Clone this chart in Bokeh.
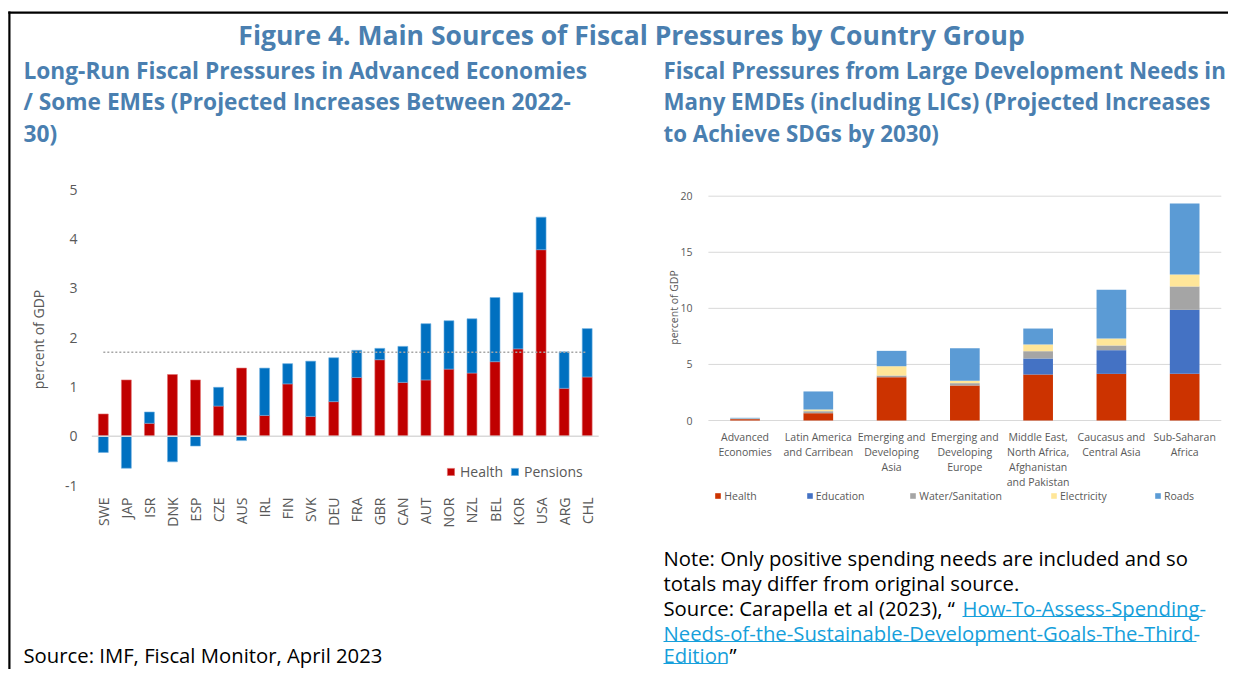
import math
from bokeh.plotting import figure
from bokeh.models import Range1d, Legend, LegendItem, ColumnDataSource, BoxAnnotation
from bokeh.core.properties import value
from bokeh.embed import file_html
from bokeh.resources import INLINE

# ---------------- data ----------------
main_title = "Figure 4. Main Sources of Fiscal Pressures by Country Group"
left_title_lines = ["Long-Run Fiscal Pressures in Advanced Economies",
                    "/ Some EMEs (Projected Increases Between 2022-",
                    "30)"]
right_title_lines = ["Fiscal Pressures from Large Development Needs in",
                     "Many EMDEs (including LICs) (Projected Increases",
                     "to Achieve SDGs by 2030)"]
left_source = "Source: IMF, Fiscal Monitor, April 2023"
axis_title = "percent of GDP"

countries = ["SWE", "JAP", "ISR", "DNK", "ESP", "CZE", "AUS", "IRL", "FIN", "SVK", "DEU",
             "FRA", "GBR", "CAN", "AUT", "NOR", "NZL", "BEL", "KOR", "USA", "ARG", "CHL"]
health = [0.45, 1.14, 0.26, 1.25, 1.14, 0.61, 1.38, 0.42, 1.06, 0.40, 0.70,
          1.19, 1.55, 1.09, 1.14, 1.36, 1.28, 1.51, 1.77, 3.78, 0.97, 1.20]
pensions = [-0.33, -0.65, 0.23, -0.52, -0.20, 0.38, -0.09, 0.96, 0.41, 1.12, 0.89,
            0.55, 0.23, 0.73, 1.14, 0.98, 1.10, 1.30, 1.14, 0.66, 0.74, 0.98]
average_total = 1.70
left_yticks = [-1, 0, 1, 2, 3, 4, 5]
left_series = ["Health", "Pensions"]

regions = ["Advanced\nEconomies", "Latin America\nand Carribean", "Emerging and\nDeveloping\nAsia",
           "Emerging and\nDeveloping\nEurope", "Middle East,\nNorth Africa,\nAfghanistan\nand Pakistan",
           "Caucasus and\nCentral Asia", "Sub-Saharan\nAfrica"]
sdg_health = [0.12, 0.65, 3.86, 3.12, 4.10, 4.16, 4.16]
sdg_education = [0.00, 0.00, 0.00, 0.00, 1.43, 2.11, 5.71]
sdg_water = [0.04, 0.18, 0.15, 0.21, 0.65, 0.42, 2.08]
sdg_electricity = [0.02, 0.15, 0.83, 0.21, 0.60, 0.62, 1.07]
sdg_roads = [0.06, 1.61, 1.37, 2.91, 1.42, 4.34, 6.33]
sdg_names = ["Health", "Education", "Water/Sanitation", "Electricity", "Roads"]
right_yticks = [0, 5, 10, 15, 20]

note_lines = ["Note: Only positive spending needs are included and so",
              "totals may differ from original source."]
source_prefix = "Source: Carapella et al (2023), \u201c "
link_lines = ["How-To-Assess-Spending-",
              "Needs-of-the-Sustainable-Development-Goals-The-Third-",
              "Edition"]
source_suffix = "\u201d"

# ---------------- layout / style constants ----------------
W, H = 1228, 669
FONT = value("Open Sans")
TITLE_C = "#4A7FB0"
AX_C = "#595959"
LINK_C = "#169FDB"
left_colors = ["#C00000", "#0070C0"]
left_edges = ["#E07070", "#6FB0E0"]
right_colors = ["#CC3300", "#4472C4", "#A5A5A5", "#FFE699", "#5B9BD5"]


def lin_range(v0, v1, p0, p1, total):
    s = (p1 - p0) / (v1 - v0)
    start = v0 - p0 / s
    return Range1d(start, start + total / s)


p = figure(width=W, height=H, x_range=Range1d(0, W), y_range=Range1d(H, 0),
           min_border=0, x_axis_location=None, y_axis_location=None,
           output_backend="svg", toolbar_location=None)
p.grid.visible = False
p.outline_line_color = None
p.background_fill_color = "white"
p.border_fill_color = "white"

n_l = len(countries)
n_r = len(regions)
p.extra_x_ranges = {
    "lx": lin_range(0, n_l, 91.3, 598.2, W),
    "rx": lin_range(0, n_r, 707.9, 1220.8, W),
}
p.extra_y_ranges = {
    "ly": lin_range(-1, 5, H - 485.0, H - 189.0, H),
    "ry": lin_range(0, 20, H - 420.0, H - 195.7, H),
}


def txt(x, y, text, size, color, bold=False, align="left", baseline="middle", **kw):
    p.text(x=x, y=y, text=text, text_font=FONT, text_font_size=size, text_color=color,
           text_font_style="bold" if bold else "normal", text_align=align,
           text_baseline=baseline, **kw)


# ---------------- frame lines ----------------
p.add_layout(BoxAnnotation(left=7.8, right=W, top=11, bottom=13.2,
                           fill_color="black", fill_alpha=1, line_color=None))
p.add_layout(BoxAnnotation(left=7.8, right=10, top=11, bottom=H,
                           fill_color="black", fill_alpha=1, line_color=None))

# ---------------- titles ----------------
txt([631], [34], [main_title], "26.5px", TITLE_C, bold=True, align="center")
txt([23] * 3, [70, 101, 133], left_title_lines, "22.7px", TITLE_C, bold=True)
txt([663] * 3, [70, 101, 133], right_title_lines, "22.3px", TITLE_C, bold=True)

# ---------------- left chart ----------------
lx = [i + 0.5 for i in range(n_l)]
p_bottom = [h if v >= 0 else 0.0 for h, v in zip(health, pensions)]
p_top = [h + v if v >= 0 else v for h, v in zip(health, pensions)]
lsrc = ColumnDataSource(dict(x=lx, h_bottom=[0.0] * n_l, h_top=health,
                             p_bottom=p_bottom, p_top=p_top))
r_h = p.vbar(x="x", bottom="h_bottom", top="h_top", width=0.43, source=lsrc,
             fill_color=left_colors[0], line_color=left_edges[0], line_width=0.6,
             x_range_name="lx", y_range_name="ly")
r_p = p.vbar(x="x", bottom="p_bottom", top="p_top", width=0.43, source=lsrc,
             fill_color=left_colors[1], line_color=left_edges[1], line_width=0.6,
             x_range_name="lx", y_range_name="ly")
p.segment(x0=[0], x1=[n_l], y0=[0], y1=[0], line_color="#D9D9D9", line_width=1.5,
          x_range_name="lx", y_range_name="ly")
p.segment(x0=[lx[0]], x1=[lx[-1]], y0=[average_total], y1=[average_total],
          line_color="#A6A6A6", line_width=1.5, line_dash="2 2",
          x_range_name="lx", y_range_name="ly")
txt([77] * len(left_yticks), left_yticks, [str(t) for t in left_yticks], "14px", AX_C,
    align="right", y_range_name="ly")
txt(lx, [-1] * n_l, countries, "14px", AX_C, align="right",
    angle=math.pi / 2, y_offset=12, x_range_name="lx", y_range_name="ly")
txt([38], [339], [axis_title], "14px", AX_C, align="center", angle=math.pi / 2)

for lab, r, mx in zip(left_series, [r_h, r_p], [446, 510]):
    leg = Legend(items=[LegendItem(label=lab, renderers=[r])], location=(mx, H - 472.3 - 9),
                 background_fill_alpha=0, border_line_color=None, glyph_width=9, glyph_height=9,
                 label_standoff=5, padding=0, margin=0, label_text_font="Open Sans",
                 label_text_font_size="14px", label_text_color=AX_C, label_height=18)
    p.add_layout(leg)

txt([23], [654], [left_source], "20.3px", "#000000")

# ---------------- right chart ----------------
rx = [i + 0.5 for i in range(n_r)]
p.segment(x0=[0] * len(right_yticks), x1=[n_r] * len(right_yticks), y0=right_yticks,
          y1=right_yticks, line_color="#D9D9D9", line_width=1,
          x_range_name="rx", y_range_name="ry")
rsrc = ColumnDataSource(dict(x=rx, Health=sdg_health, Education=sdg_education,
                             Water=sdg_water, Electricity=sdg_electricity, Roads=sdg_roads))
stack_cols = ["Health", "Education", "Water", "Electricity", "Roads"]
rs = p.vbar_stack(stack_cols, x="x", width=0.405, source=rsrc, fill_color=right_colors,
                  line_color=None, x_range_name="rx", y_range_name="ry")
txt([692] * len(right_yticks), right_yticks, [str(t) for t in right_yticks], "10.5px", AX_C,
    align="right", y_range_name="ry")
txt(rx, [0] * n_r, regions, "10.5px", AX_C, align="center", baseline="top", y_offset=9,
    text_line_height=1.09, x_range_name="rx", y_range_name="ry")
txt([673], [307], [axis_title], "10.5px", AX_C, align="center", angle=math.pi / 2)

for lab, r, mx in zip(sdg_names, rs, [714.3, 805.7, 909.3, 1050.0, 1154.0]):
    leg = Legend(items=[LegendItem(label=lab, renderers=[r])], location=(mx, H - 495.7 - 7),
                 background_fill_alpha=0, border_line_color=None, glyph_width=7, glyph_height=7,
                 label_standoff=3, padding=0, margin=0, label_text_font="Open Sans",
                 label_text_font_size="10.5px", label_text_color=AX_C, label_height=14)
    p.add_layout(leg)

note_y = [557, 582, 607, 632, 654]
txt([663] * 2, note_y[:2], note_lines, "20.3px", "#000000")
txt([663], [note_y[2]], [source_prefix], "20.3px", "#000000")
txt([962], [note_y[2]], [link_lines[0]], "20.3px", LINK_C)
txt([663] * 2, note_y[3:], link_lines[1:], "20.3px", LINK_C)
txt([729], [note_y[4]], [source_suffix], "20.3px", "#000000")
p.segment(x0=[962, 663, 663], x1=[1202, 1196, 727],
          y0=[b + 9 for b in note_y[2:]], y1=[b + 9 for b in note_y[2:]],
          line_color=LINK_C, line_width=1.2)

open("out.html", "w").write(file_html(p, INLINE))
